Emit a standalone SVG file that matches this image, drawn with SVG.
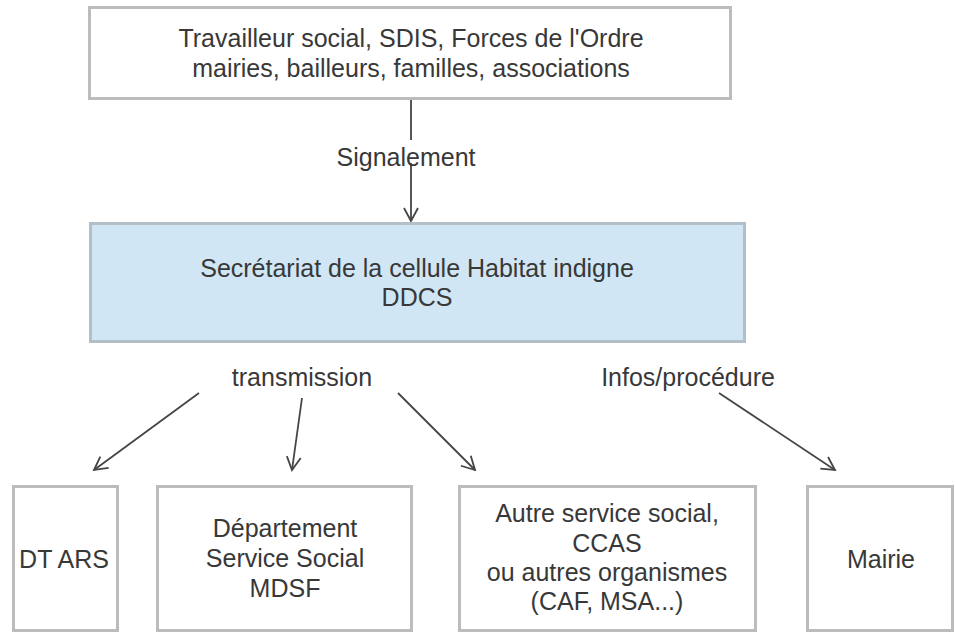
<svg xmlns="http://www.w3.org/2000/svg" width="956" height="633" viewBox="0 0 956 633">
<style>
.box{fill:#ffffff;stroke:#bcbcbc;stroke-width:3}
.blue{fill:#d0e6f4;stroke:#b4bec6;stroke-width:3}
.t{font-family:"Liberation Sans",Arial,sans-serif;font-size:25px;fill:#383838;text-anchor:middle}
.c{fill:none;stroke:#454545;stroke-width:1.8}
</style>
<defs>
<marker id="ah" markerWidth="16" markerHeight="16" refX="14" refY="8" orient="auto" markerUnits="userSpaceOnUse">
<path d="M1,1 L14,8 L1,15" fill="none" stroke="#454545" stroke-width="1.8"/>
</marker>
</defs>
<rect width="956" height="633" fill="#ffffff"/>
<g id="connectors">
<line class="c" x1="411" y1="99" x2="411" y2="140"/>
<line class="c" x1="411" y1="163" x2="411" y2="221" marker-end="url(#ah)"/>
<line class="c" x1="199" y1="393" x2="94" y2="470" marker-end="url(#ah)"/>
<line class="c" x1="302" y1="398" x2="292" y2="470" marker-end="url(#ah)"/>
<line class="c" x1="398" y1="393" x2="475" y2="470" marker-end="url(#ah)"/>
<line class="c" x1="719" y1="393" x2="835" y2="470" marker-end="url(#ah)"/>
<text class="t" x="406" y="166">Signalement</text>
<text class="t" x="302" y="386">transmission</text>
<text class="t" x="688" y="386">Infos/procédure</text>
</g>
<g id="source">
<rect class="box" x="89.5" y="7.5" width="641" height="91"/>
<text class="t" x="411" y="47">Travailleur  social, SDIS, Forces de l'Ordre</text>
<text class="t" x="411" y="77">mairies, bailleurs, familles, associations</text>
</g>
<g id="secretariat">
<rect class="blue" x="90.5" y="223.5" width="654" height="118"/>
<text class="t" x="417" y="277">Secrétariat de la cellule Habitat indigne</text>
<text class="t" x="417" y="306">DDCS</text>
</g>
<g id="dtars">
<rect class="box" x="13.5" y="486.5" width="104" height="144"/>
<text class="t" x="64" y="568">DT ARS</text>
</g>
<g id="departement">
<rect class="box" x="157.5" y="486.5" width="254" height="144"/>
<text class="t" x="285" y="537">Département</text>
<text class="t" x="285" y="567">Service Social</text>
<text class="t" x="285" y="597">MDSF</text>
</g>
<g id="autre">
<rect class="box" x="459.5" y="486.5" width="296" height="144"/>
<text class="t" x="607" y="522">Autre service social,</text>
<text class="t" x="607" y="552">CCAS</text>
<text class="t" x="607" y="581">ou autres organismes</text>
<text class="t" x="607" y="610">(CAF, MSA...)</text>
</g>
<g id="mairie">
<rect class="box" x="807.5" y="486.5" width="145" height="144"/>
<text class="t" x="881" y="568">Mairie</text>
</g>
</svg>
